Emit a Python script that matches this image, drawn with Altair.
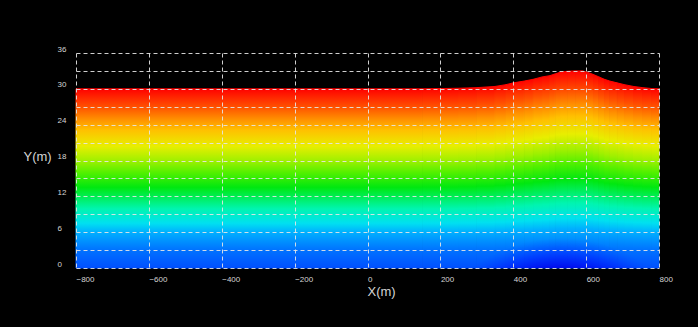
import altair as alt
import pandas as pd

# Ground surface profile (x in m, top elevation in m)
surface_x = [-800, 150, 250, 300, 350, 380, 400, 430, 455, 480, 500, 515, 530, 550, 570,
             590, 605, 620, 635, 650, 665, 685, 705, 730, 755, 780, 800]
surface_h = [30.0, 30.0, 30.1, 30.2, 30.4, 30.7, 31.0, 31.3, 31.6, 32.0, 32.2, 32.5, 32.8,
             32.95, 33.0, 33.0, 32.75, 32.4, 32.0, 31.6, 31.3, 31.0, 30.7, 30.4, 30.2, 30.05, 30.0]

# Colour levels of the field, from bottom (0) to top of the column (1)
level_offsets = [0.0, 0.1, 0.2, 0.25, 0.33, 0.45, 0.53, 0.6, 0.68, 0.77, 0.83, 0.9, 1.0]
level_colors = ["#0050ff", "#0072ff", "#00b0ff", "#00e0f0", "#00f5b0", "#00e810",
                "#50f000", "#a0f000", "#e8ee00", "#ffc000", "#ff9000", "#ff5000", "#ff0000"]

# Extent of the overlay that carries the low-value zone under the hill
low_zone_x = [-800, 800]
low_zone_top = [36, 36]

x_ticks = list(range(-800, 801, 200))
y_ticks = list(range(0, 37, 3))

rows = []
for i in range(len(surface_x) - 1):
    for j in (i, i + 1):
        rows.append({"seg": i, "x": surface_x[j], "h": surface_h[j], "base": 0})
surf_df = pd.DataFrame(rows)

low_df = pd.DataFrame({"x": low_zone_x, "h": low_zone_top, "base": [0, 0]})

main_grad = alt.LinearGradient(
    gradient="linear",
    stops=[alt.GradientStop(color=c, offset=o) for o, c in zip(level_offsets, level_colors)],
    x1=0, y1=1, x2=0, y2=0,
)

low_grad = alt.RadialGradient(
    gradient="radial",
    stops=[
        alt.GradientStop(color="rgba(0,0,230,0.9)", offset=0.0),
        alt.GradientStop(color="rgba(0,0,235,0.85)", offset=0.8),
        alt.GradientStop(color="rgba(0,25,255,0.45)", offset=0.9),
        alt.GradientStop(color="rgba(0,60,255,0)", offset=1.0),
    ],
    x1=0.832, y1=0.89, r1=0, x2=0.832, y2=0.89, r2=0.257,
)

label_font = "Liberation Sans"
txt = "#d4d4d4"
grid_col = "#e6e6e6"

x_scale = alt.Scale(domain=[-800, 800], nice=False, zero=False)
y_scale = alt.Scale(domain=[0, 36], nice=False, zero=False)

x_axis = alt.Axis(
    values=x_ticks, tickCount=len(x_ticks), title="X(m)", grid=True, gridColor=grid_col,
    gridDash=[4, 3], gridOpacity=0.9, domain=False, ticks=False, labelAlign="left",
    labelBaseline="top", labelPadding=7, labelFontSize=8, labelColor=txt,
    labelFont=label_font, labelOverlap=False, labelFlush=False,
    titleFont=label_font, titleFontSize=13, titleFontWeight="normal", titleColor=txt,
    titleAlign="left", titleBaseline="top", titleX=291, titleY=17, zindex=1,
)
y_axis = alt.Axis(
    values=y_ticks, tickCount=len(y_ticks),
    labelExpr="datum.value % 6 === 0 ? datum.label : ''",
    title="Y(m)", grid=True, gridColor=grid_col, gridDash=[4, 3], gridOpacity=0.9,
    domain=False, ticks=False, labelAlign="left", labelBaseline="bottom",
    labelPadding=19, labelFontSize=8, labelColor=txt, labelFont=label_font,
    labelOverlap=False, labelFlush=False,
    titleFont=label_font, titleFontSize=13, titleFontWeight="normal", titleColor=txt,
    titleAngle=0, titleAlign="left", titleBaseline="middle", titleX=-53, titleY=103,
    zindex=1,
)

main = alt.Chart(surf_df).mark_area(
    fill=main_grad, stroke=main_grad, strokeWidth=1, opacity=1
).encode(
    x=alt.X("x:Q", scale=x_scale, axis=x_axis),
    y=alt.Y("h:Q", scale=y_scale, axis=y_axis),
    y2=alt.Y2("base:Q"),
    detail="seg:N",
)

low = alt.Chart(low_df).mark_area(fill=low_grad).encode(
    x=alt.X("x:Q", scale=x_scale),
    y=alt.Y("h:Q", scale=y_scale),
    y2=alt.Y2("base:Q"),
)

chart = alt.layer(main, low).properties(
    width=583, height=215,
    autosize=alt.AutoSizeParams(type="none"),
    padding={"left": 76, "top": 53, "right": 39, "bottom": 59},
).configure(background="black").configure_view(strokeWidth=0)

chart.save("out.html", embed_options={"renderer": "svg", "actions": False})
